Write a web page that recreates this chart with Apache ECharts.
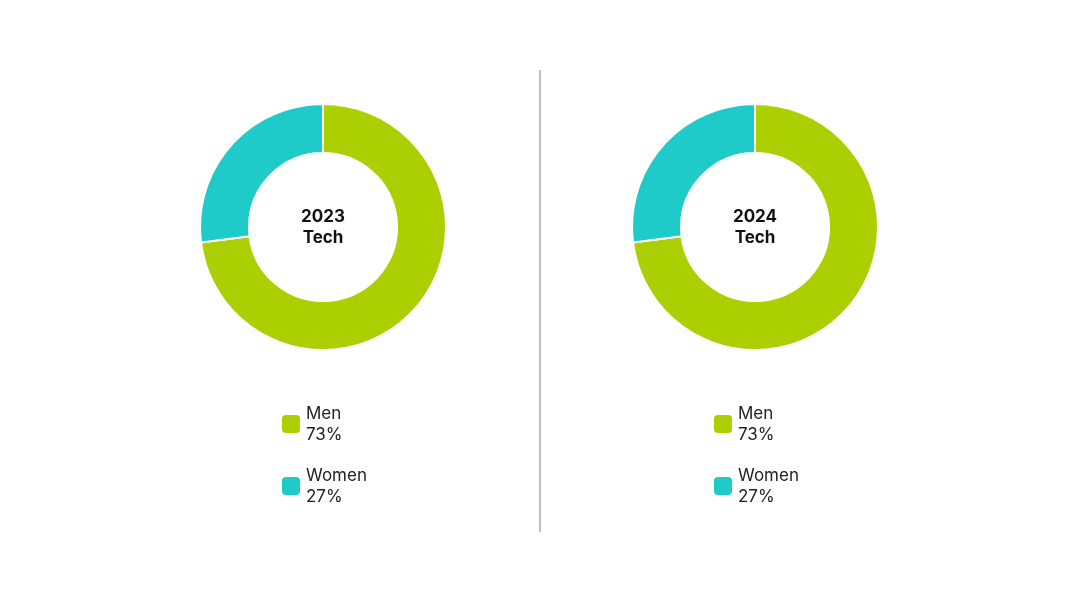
<!DOCTYPE html>
<html><head><meta charset="utf-8">
<script src="https://cdn.jsdelivr.net/npm/echarts@6/dist/echarts.min.js"></script>
<style>html,body{margin:0;background:#fff}#c{width:1080px;height:608px}</style>
</head><body><div id="c"></div>
<script>
var categories = ["Men", "Women"];
var years = ["2023", "2024"];
var values2023 = [73, 27];
var values2024 = [73, 27];
var colors = ["#abcf00", "#1ecbc8"];

var chart = echarts.init(document.getElementById("c"));
var centersX = [323, 755];
var allValues = [values2023, values2024];

function legendFmt(name) {
  var i = categories.indexOf(name);
  return "{t|" + name + "}\n{t|" + allValues[0][i] + "%}";
}

chart.setOption({
  color: colors,
  graphic: [{
    type: "line",
    shape: { x1: 540, y1: 70, x2: 540, y2: 532 },
    style: { stroke: "#aaaaaa", lineWidth: 1.5 }
  }],
  legend: centersX.map(function (x) {
    return {
      orient: "vertical",
      left: x - 48,
      top: 400,
      icon: "roundRect",
      itemWidth: 20,
      itemHeight: 20,
      itemGap: 24,
      selectedMode: false,
      data: categories,
      formatter: legendFmt,
      textStyle: { rich: { t: { fontFamily: "Inter", fontSize: 17, color: "#222", lineHeight: 21 } } }
    };
  }),
  series: years.map(function (y, k) {
    return {
      type: "pie",
      center: [centersX[k], 227],
      radius: [74, 123],
      startAngle: 90,
      silent: true,
      label: {
        show: true,
        position: "center",
        formatter: function () { return y + "\nTech"; },
        fontFamily: "Inter",
        fontWeight: "bold",
        fontSize: 17,
        lineHeight: 21,
        color: "#111"
      },
      labelLine: { show: false },
      itemStyle: { borderColor: "#fff", borderWidth: 2 },
      data: categories.map(function (c, i) { return { name: c, value: allValues[k][i] }; })
    };
  })
});
</script></body></html>
